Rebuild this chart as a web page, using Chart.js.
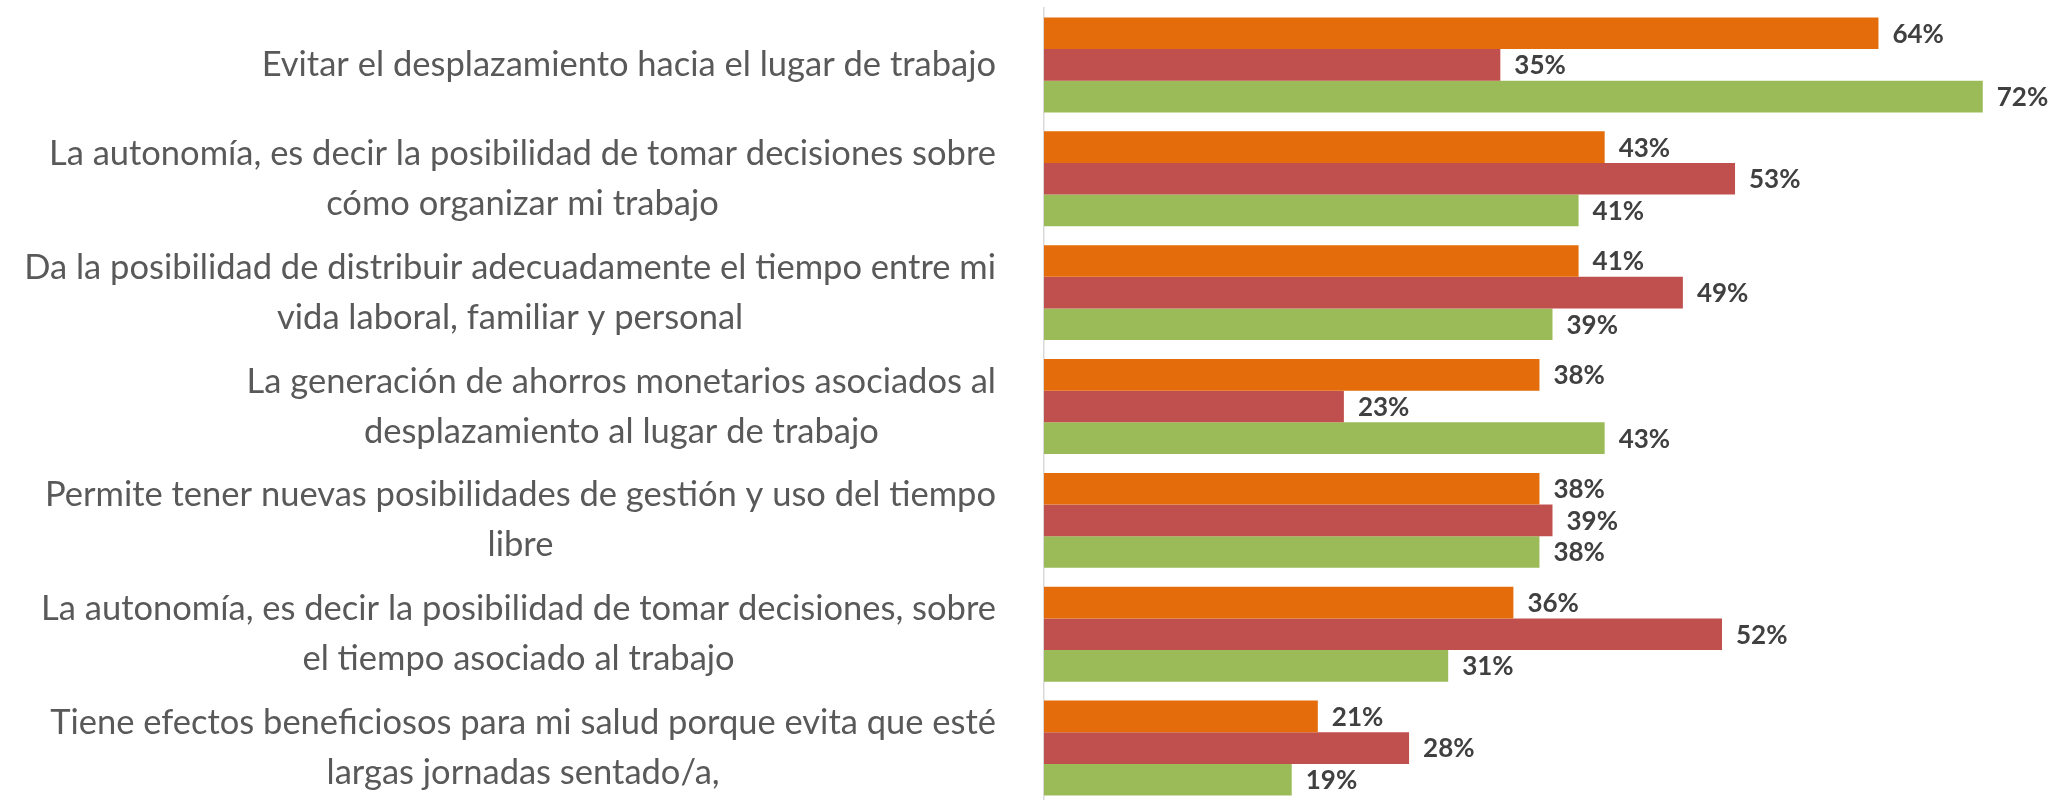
<!DOCTYPE html>
<html lang="es">
<head>
  <meta charset="UTF-8">
  <title>Ventajas del teletrabajo</title>
  <script src="https://cdn.jsdelivr.net/npm/chart.js"></script>
  <style>
    html, body {
      margin: 0;
      padding: 0;
      background: #fff;
      overflow: hidden;
    }
    .wrap {
      position: relative;
      width: 2069px;
      height: 806px;
    }
  </style>
</head>
<body>
  <div class="wrap">
    <canvas id="grafico"></canvas>
  </div>

  <script>
    const categorias = [
      ['Evitar el desplazamiento hacia el lugar de trabajo'],
      ['La autonomía, es decir la posibilidad de tomar decisiones sobre', 'cómo organizar mi trabajo'],
      ['Da la posibilidad de distribuir adecuadamente el tiempo entre mi', 'vida laboral, familiar y personal'],
      ['La generación de ahorros monetarios asociados al', 'desplazamiento al lugar de trabajo'],
      ['Permite tener nuevas posibilidades de gestión y uso del tiempo', 'libre'],
      ['La autonomía, es decir la posibilidad de tomar decisiones, sobre', 'el tiempo asociado al trabajo'],
      ['Tiene efectos beneficiosos para mi salud porque evita que esté', 'largas jornadas sentado/a,']
    ];
    const serieNaranja = [64, 43, 41, 38, 38, 36, 21];
    const serieRoja = [35, 53, 49, 23, 39, 52, 28];
    const serieVerde = [72, 41, 39, 43, 38, 31, 19];

    const fuente = 'Lato, "Open Sans", sans-serif';

    // etiquetas de categoría: bloque alineado a la derecha, líneas centradas entre sí
    const etiquetasCategorias = {
      id: 'etiquetasCategorias',
      afterDraw(chart) {
        const ctx = chart.ctx;
        const y = chart.scales.y;
        const derecha = chart.chartArea.left - 48;
        const alto = 50;
        ctx.save();
        ctx.font = '34.5px ' + fuente;
        ctx.fillStyle = '#595959';
        ctx.textAlign = 'center';
        ctx.textBaseline = 'middle';
        categorias.forEach((lineas, i) => {
          const centroY = y.getPixelForValue(i);
          const ancho = Math.max(...lineas.map(l => ctx.measureText(l).width));
          const x = derecha - ancho / 2;
          const y0 = centroY - (lineas.length - 1) * alto / 2;
          lineas.forEach((l, j) => ctx.fillText(l, x, y0 + j * alto));
        });
        ctx.restore();
      }
    };

    // valores al final de cada barra
    const etiquetasValores = {
      id: 'etiquetasValores',
      afterDatasetsDraw(chart) {
        const ctx = chart.ctx;
        ctx.save();
        ctx.font = 'bold 26px ' + fuente;
        ctx.fillStyle = '#404040';
        ctx.textAlign = 'left';
        ctx.textBaseline = 'middle';
        chart.data.datasets.forEach((ds, i) => {
          chart.getDatasetMeta(i).data.forEach((bar, j) => {
            ctx.fillText(ds.data[j] + '%', bar.x + 14, bar.y + 1);
          });
        });
        ctx.restore();
      }
    };

    new Chart(document.getElementById('grafico'), {
      type: 'bar',
      data: {
        labels: categorias,
        datasets: [
          { label: 'Serie 1', data: serieNaranja, backgroundColor: '#E46C0A' },
          { label: 'Serie 2', data: serieRoja, backgroundColor: '#C0504D' },
          { label: 'Serie 3', data: serieVerde, backgroundColor: '#9BBB59' }
        ]
      },
      options: {
        indexAxis: 'y',
        responsive: true,
        maintainAspectRatio: false,
        animation: false,
        layout: {
          padding: { left: 0, right: 8, top: 8, bottom: 1 }
        },
        datasets: {
          bar: { barPercentage: 1, categoryPercentage: 0.834 }
        },
        scales: {
          x: {
            display: false,
            min: 0,
            max: 78
          },
          y: {
            grid: { display: false },
            ticks: { display: false },
            border: { color: '#d9d9d9', width: 1.5 },
            afterFit: s => { s.width = 1044; }
          }
        },
        plugins: {
          legend: { display: false },
          tooltip: { enabled: false }
        }
      },
      plugins: [etiquetasCategorias, etiquetasValores]
    });
  </script>
</body>
</html>
